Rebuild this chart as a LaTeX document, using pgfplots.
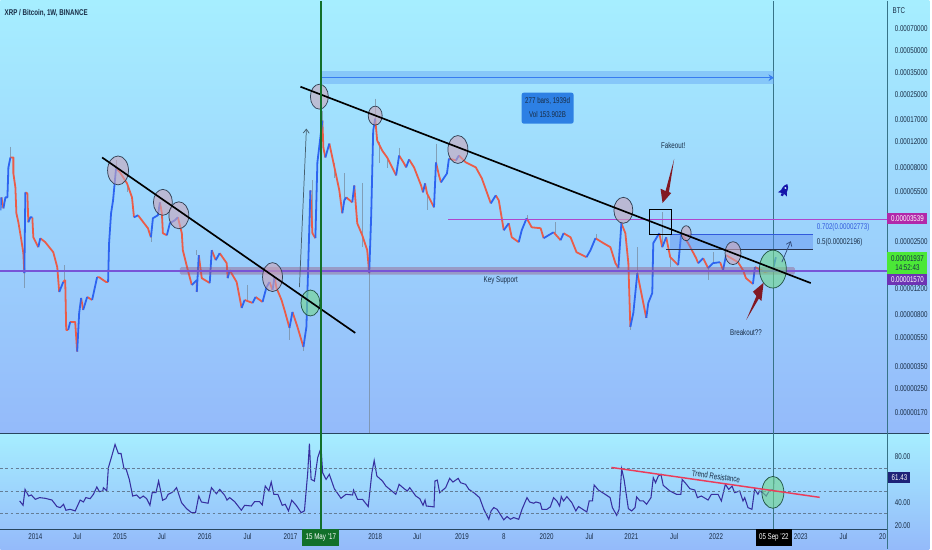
\documentclass[border=0pt]{standalone}
\usepackage{fontspec}
\usepackage{pgfplots}
\pgfplotsset{compat=1.18}
\usetikzlibrary{arrows.meta}
\setmainfont[FakeStretch=0.74]{Liberation Sans}
\definecolor{cred}{RGB}{235,92,72}
\definecolor{cblue}{RGB}{45,100,240}
\definecolor{cwick}{RGB}{120,140,160}
\definecolor{crsi}{RGB}{55,48,160}
\definecolor{ctxt}{RGB}{25,45,70}
\definecolor{caxis}{RGB}{55,115,135}
\definecolor{cgreen}{RGB}{18,112,42}
\definecolor{bgtop}{RGB}{166,238,255}
\definecolor{bgbot}{RGB}{148,186,250}
\definecolor{darr}{RGB}{130,25,35}
\definecolor{lpurple}{RGB}{120,85,215}
\definecolor{lmag}{RGB}{175,70,205}
\definecolor{ldash}{RGB}{100,125,150}
\definecolor{lpanel}{RGB}{40,70,95}
\definecolor{lfib}{RGB}{50,90,220}
\definecolor{lfibb}{RGB}{40,50,75}
\definecolor{cgray}{RGB}{205,165,185}
\definecolor{cgrayl}{RGB}{50,65,85}
\definecolor{cgrn}{RGB}{115,215,140}
\definecolor{cgrnl}{RGB}{35,85,70}
\definecolor{cband}{RGB}{150,85,125}
\definecolor{cmeas}{RGB}{100,165,245}
\definecolor{cmeasl}{RGB}{55,125,240}
\definecolor{cbox}{RGB}{45,128,228}
\definecolor{cfibf}{RGB}{95,140,240}
\definecolor{ctrend}{RGB}{235,60,90}
\definecolor{carr}{RGB}{70,95,110}
\definecolor{carrb}{RGB}{50,75,125}
\definecolor{crocket}{RGB}{20,20,170}
\definecolor{tagm}{RGB}{178,40,170}
\definecolor{tagg}{RGB}{75,232,55}
\definecolor{tagp}{RGB}{110,50,180}
\definecolor{tagn}{RGB}{30,35,120}
\newcommand{\lab}{\fontsize{6.3}{7}\selectfont}
\begin{document}
\begin{tikzpicture}
\begin{scope}[x=0.75pt,y=-0.75pt]
\useasboundingbox (0,0) rectangle (932,550);
\shade[top color=bgtop,bottom color=bgbot] (0,0) rectangle (932,434);
\shade[top color=bgtop,bottom color=bgbot] (0,434) rectangle (932,550);
\end{scope}
\begin{axis}[
  at={(0pt,0pt)},anchor=north west,scale only axis,
  width=667.5pt,height=325.5pt,
  xmin=0,xmax=890,ymode=log,ymin=123,ymax=108400,
  axis line style={draw=none},tick style={draw=none},
  xtick=\empty,
  ytick={70000,50000,35000,25000,17000,12000,8000,5500,2500,1200,800,550,350,250,170},
  yticklabels={0.00070000,0.00050000,0.00035000,0.00025000,0.00017000,0.00012000,0.00008000,0.00005500,0.00002500,0.00001200,0.00000800,0.00000550,0.00000350,0.00000250,0.00000170},
  yticklabel pos=right,
  yticklabel style={font=\lab,text=ctxt,anchor=west,xshift=2pt},
  unbounded coords=jump,
  line join=bevel,
]
\addplot[cwick,line width=0.6pt,opacity=.75] coordinates {
(10,11070)(10,9320)(10,nan)(24,1522)(24,1205)(24,nan)(64,1725)(64,1365)(64,nan)
(116,8900)(116,7860)(116,nan)(127,6210)(127,5400)(127,nan)(151,2670)(151,2471)(151,nan)
(197,2180)(197,2016)(197,nan)(248,1263)(248,999)(248,nan)(290,645)(290,535)(290,nan)
(304,478)(304,450)(304,nan)(313,6510)(313,2843)(313,nan)(323,19440)(323,16620)(323,nan)
(335,8490)(335,6720)(335,nan)(345,7260)(345,4760)(345,nan)(363,6210)(363,2286)(363,nan)
(370,1522)(370,125)(370,nan)(376,23500)(376,17150)(376,nan)(380,11800)(380,8490)(380,nan)
(388,8900)(388,7860)(388,nan)(400,10900)(400,9620)(400,nan)(428,5310)(428,4075)(428,nan)
(437,11600)(437,8630)(437,nan)(529,3770)(529,3600)(529,nan)(557,3377)(557,2843)(557,nan)
(598,2800)(598,2630)(598,nan)(632,655)(632,625)(632,nan)(639,2286)(639,1522)(639,nan)
(664,3950)(664,2286)(664,nan)(672,1954)(672,1672)(672,nan)(710,1646)(710,1365)(710,nan)
(715,2113)(715,1779)
};
\addplot[cred,line width=1.35pt] coordinates {
(1,4990)(3,4200)(3,nan)
(10,9320)(13,9320)(13,7260)(15,5840)(16,3890)(18,3377)(21,2550)(23,2080)(24,1522)(24,nan)
(25,5400)(27,5310)(28,3377)(28,nan)
(32,3650)(33,2670)(38,2286)(38,nan)
(40,2630)(45,2471)(53,2113)(57,1672)(59,1132)(59,nan)
(63,1323)(65,1365)(66,625)(68,625)(68,nan)
(70,708)(75,708)(77,444)(77,nan)
(81,1031)(83,854)(83,nan)
(87,1047)(92,999)(92,nan)
(97,1428)(99,1428)(103,1365)(106,1323)(108,1323)(108,nan)
(116,7860)(120,7380)(127,6210)(132,4990)(134,3650)(134,nan)
(138,3770)(148,3075)(151,2670)(151,nan)
(160,4610)(162,3890)(163,2843)(167,2756)(167,nan)
(178,3650)(182,2843)(183,2180)(188,1595)(192,1263)(192,nan)
(197,1365)(197,1132)(197,nan)
(199,2016)(202,1406)(210,1303)(210,nan)
(212,2180)(216,1865)(216,nan)
(220,2080)(227,1779)(228,1406)(228,nan)
(230,1595)(237,1323)(242,881)(242,nan)
(245,999)(253,953)(253,nan)
(256,1047)(263,968)(263,nan)
(270,1323)(273,1168)(273,nan)
(275,1428)(277,1205)(282,999)(285,854)(290,645)(290,nan)
(293,828)(298,655)(304,478)(304,nan)
(311,5570)(313,2843)(316,2630)(316,nan)
(323,16620)(324,10900)(326,9320)(326,nan)
(330,11600)(333,9320)(340,5570)(343,3890)(343,nan)
(347,4990)(353,4610)(353,nan)
(355,6020)(358,3324)(363,2756)(368,2180)(370,1522)(370,nan)
(376,17150)(378,12160)(383,10400)(388,9320)(397,7040)(397,nan)
(400,9620)(405,8490)(407,7980)(407,nan)
(410,9040)(415,7980)(422,6020)(424,5400)(424,nan)
(426,6210)(428,5310)(435,4270)(435,nan)
(437,8630)(440,7040)(442,6310)(442,nan)
(450,9180)(457,8900)(457,nan)
(460,9620)(467,8630)(477,7980)(483,6720)(492,4540)(492,nan)
(497,5150)(500,4760)(505,2980)(505,nan)
(510,3324)(513,2670)(520,2471)(520,nan)
(528,3600)(533,3120)(542,3075)(545,2630)(545,nan)
(555,2888)(562,2550)(562,nan)
(565,2843)(572,2670)(578,2113)(588,1954)(588,nan)
(597,2630)(605,2433)(612,2286)(617,1779)(620,1646)(620,nan)
(623,3324)(627,2843)(630,1779)(632,655)(632,nan)
(639,1522)(643,1114)(645,953)(648,754)(648,nan)
(661,2843)(664,2286)(664,nan)
(668,2670)(672,1954)(680,1725)(680,nan)
(683,2843)(690,2433)(698,1924)(700,1779)(700,nan)
(705,1924)(710,1646)(710,nan)
(722,1807)(725,1595)(725,nan)
(728,2016)(740,1807)(745,1595)(748,1406)(755,1283)(755,nan)
(757,1672)(767,1550)(775,1595)
};
\addplot[cblue,line width=1.35pt] coordinates {
(0,4075)(1,4990)(1,nan)
(3,4200)(5,4990)(7,4990)(8,7980)(10,9320)(10,nan)
(24,1522)(25,5400)(25,nan)
(28,3377)(30,3650)(32,3650)(32,nan)
(38,2286)(40,2630)(40,nan)
(59,1132)(63,1323)(63,nan)
(68,625)(70,708)(70,nan)
(77,444)(79,815)(81,1031)(81,nan)
(83,854)(87,1047)(87,nan)
(92,999)(97,1428)(97,nan)
(108,1323)(109,2433)(111,3890)(113,4760)(116,7860)(116,nan)
(134,3650)(138,3770)(138,nan)
(151,2670)(153,3600)(158,3770)(160,4610)(160,nan)
(167,2756)(170,3324)(175,3484)(178,3650)(178,nan)
(192,1263)(197,1365)(197,nan)
(197,1132)(199,2016)(199,nan)
(210,1303)(212,2180)(212,nan)
(216,1865)(220,2080)(220,nan)
(228,1406)(230,1595)(230,nan)
(242,881)(245,999)(245,nan)
(253,953)(256,1047)(256,nan)
(263,968)(267,1224)(270,1323)(270,nan)
(273,1168)(275,1428)(275,nan)
(290,645)(293,828)(293,nan)
(304,478)(307,655)(311,5570)(311,nan)
(316,2630)(318,8630)(323,16620)(323,nan)
(326,9320)(330,11600)(330,nan)
(343,3890)(345,4760)(347,4990)(347,nan)
(353,4610)(355,6020)(355,nan)
(370,1522)(372,3770)(374,14220)(376,17150)(376,nan)
(397,7040)(400,9620)(400,nan)
(407,7980)(410,9040)(410,nan)
(424,5400)(426,6210)(426,nan)
(435,4270)(437,8630)(437,nan)
(442,6310)(448,7260)(450,9180)(450,nan)
(457,8900)(460,9620)(460,nan)
(492,4540)(497,5150)(497,nan)
(505,2980)(510,3324)(510,nan)
(520,2471)(523,2980)(528,3600)(528,nan)
(545,2630)(555,2888)(555,nan)
(562,2550)(565,2843)(565,nan)
(588,1954)(592,2180)(597,2630)(597,nan)
(620,1646)(623,3324)(623,nan)
(632,655)(635,815)(639,1522)(639,nan)
(648,754)(650,953)(654,1114)(655,2433)(661,2843)(661,nan)
(664,2286)(668,2670)(668,nan)
(680,1725)(683,2843)(683,nan)
(700,1779)(705,1924)(705,nan)
(710,1646)(715,1779)(722,1807)(722,nan)
(725,1595)(728,2016)(728,nan)
(755,1283)(757,1672)(757,nan)
(775,1595)(778,1954)
};
\end{axis}
\begin{axis}[
  at={(0pt,-325.5pt)},anchor=north west,scale only axis,
  width=667.5pt,height=72pt,
  xmin=0,xmax=890,ymin=16.52,ymax=100,
  axis line style={draw=none},tick style={draw=none},
  xtick={35,77,120,162,205,248,291,376,418,463,505,548,591,633,676,718,803,846,885},
  xticklabels={2014,Jul,2015,Jul,2016,Jul,2017,2018,Jul,2019,8,2020,Jul,2021,Jul,2022,2023,Jul,20},
  xticklabel style={font=\lab,text=ctxt,anchor=center,yshift=-5.5pt},
  ytick={80,40,20},
  yticklabels={80.00,40.00,20.00},
  yticklabel pos=right,
  yticklabel style={font=\lab,text=ctxt,anchor=west,xshift=2pt},
]
\addplot[crsi,line width=0.8pt] coordinates {
(19.3,41.2)(22.7,37.4)(24.7,51.3)(28.3,45.5)(31,46.4)(35,42.6)(39.3,44.1)(45,43.5)(51.7,42)(56.7,36.3)(60,35.4)(63.3,38.3)(65.7,33.1)(70,33.9)(75,32.5)(80,42)(83.3,40.3)(85.7,44.1)(90,43.2)(93.3,47)(96.7,53.4)(99.3,49.3)(102.7,49.9)(103.3,52.8)(106.7,49.9)(108.3,70.2)(111.7,80.3)(115,90.5)(118.3,82.6)(121,82.6)(124,69.3)(126,69.3)(129.3,60)(132.7,45.5)(136.7,46.4)(140,43.5)(143.3,45.5)(146.7,43.2)(150,37.4)(152.3,48.4)(156,48.4)(158.7,58.6)(162.7,41.8)(166,43.2)(168.3,47)(171.7,48.4)(174,49.9)(176.7,52.8)(181.7,39.7)(186.7,34.5)(191.7,31)(195.7,31)(199,45.5)(201.7,40.3)(208.3,39.2)(211.7,52.8)(216.7,47.5)(220,51.3)(225,46.1)(227.3,42)(230,44.1)(235,40.6)(241.7,33.1)(245,37.4)(251.7,36.8)(255,40.6)(260,40.6)(262.7,37.7)(265.7,54.2)(269.3,49.9)(271.7,57.7)(274.3,47)(278.3,47)(282.7,37.4)(285.7,38.3)(289,32.5)(292.3,41.8)(296.7,37.4)(301.7,31)(305,32.5)(308.3,65.8)(310,91.3)(311.7,60)(315,58.6)(318.3,78.9)(321.7,87.6)(323.3,65.8)(326.7,60)(330,64.4)(335,51.9)(341.7,43.5)(346.7,47)(353.3,46.4)(354.3,50.7)(358.3,42.6)(363.3,42.6)(369,36.3)(372.7,65.8)(375,76.5)(377.7,62.9)(383.3,58.6)(386.7,54.2)(396.7,47)(400,55.7)(405,51.9)(408.3,49.9)(410.7,52.8)(416.7,45.5)(420.7,43.2)(424,37.4)(426,42)(427.3,36.8)(435,36)(436,58.6)(438.3,59.4)(440.7,48.4)(446.7,52.8)(450.7,60.9)(454,57.7)(459.3,60.9)(461.7,57.1)(466.7,55.7)(470,51.3)(475,48.4)(480.7,44.1)(485,33.9)(490,25.2)(492.3,32.5)(495,35.4)(498.3,33.9)(505,24.7)(508.3,27.6)(511.7,25.2)(515,26.7)(520,25.2)(523.3,33.9)(528.3,44.1)(531,40.3)(535,39.2)(537.3,40.3)(541.7,39.2)(543.3,33.9)(548.3,33.9)(551.7,36)(555,44.1)(558.3,41.2)(561,36.8)(562.7,45)(565,41.2)(568.3,45)(573.3,39.7)(577.3,32.5)(580,36.3)(588.3,31.6)(590.7,41.2)(594,41.2)(595.7,55.1)(600,50.7)(606.7,47)(611.7,44.1)(614,35.4)(618.3,28.7)(620.7,33.9)(623.3,69.3)(625.7,60)(630,34.5)(633.3,32.5)(636.7,35.4)(638.3,44.7)(641.7,41.2)(645,41.2)(648.3,38.3)(652.7,44.1)(655,61.5)(657.3,57.1)(660,62.9)(662.7,64.4)(665,54.8)(671.7,49.9)(678.3,47)(682.7,47)(684,60)(688.3,55.7)(691.7,51.9)(696.7,50.7)(699.3,44.1)(703.3,45.5)(710,42)(713.3,47)(720,47)(723.3,41.2)(727.3,55.7)(730.7,51.3)(734,54.2)(736.7,48.4)(741.7,49.9)(745,41.2)(746.7,44.1)(750,35.4)(754,33.9)(756.7,51.3)(760,47)(761.7,49.9)(765,48.4)(768.3,45.5)(771.7,50.5)(775.7,51.3)(776,61.43)
};
\end{axis}
\begin{scope}[x=0.75pt,y=-0.75pt,font=\lab,text=ctxt]
% RSI guides
\foreach \yy in {469,492,514.5}{\draw[dash pattern=on 2.2pt off 1.6pt,line width=.5pt,draw=ldash] (0,\yy)--(890,\yy);}
% panel lines
\draw[line width=.65pt,draw=lpanel] (0,434)--(932,434);
\draw[line width=.65pt,draw=lpanel] (0,530)--(890,530);
\draw[line width=.8pt,draw=caxis] (890,0)--(890,550);
\draw[line width=.8pt,draw=caxis] (776,0)--(776,530);
% key support
\fill[rounded corners=1pt,fill=cband,opacity=.42] (180,267) rectangle (797,274.5);
\fill[lpurple] (0,270.3) rectangle (890,271.7);
\fill[lmag] (449,218.3) rectangle (890,219.7);
% measure box
\fill[fill=cmeas,opacity=.45] (322,70) rectangle (776,83);
\draw[line width=.9pt,draw=cmeasl,-{Stealth[length=4pt,width=5pt]}] (322,77)--(776,77);
\fill[rounded corners=1.5pt,fill=cbox] (523,92) rectangle (575,123);
\node[text=ctxt] at (549,100) {277 bars, 1939d};
\node[text=ctxt] at (549,114) {Vol 153.902B};
% fib box
\fill[fill=cfibf,opacity=.42] (672,234) rectangle (815,249);
\fill[lfib] (652,233.8) rectangle (815,235.2);
\draw[line width=.7pt,draw=lfibb] (668,249)--(815,249);
\node[anchor=west,inner sep=0,text=lfib] at (819,227) {0.702(0.00002773)};
\node[anchor=west,inner sep=0] at (819,242) {0.5(0.00002196)};
\draw[line width=.9pt,black] (651,209) rectangle (673,234);
% circles
\foreach \cx/\cy/\rx/\ry in {118/170/10.5/14.5,163/202/9.5/13,179/215/10/13.5,273/277/10/14.5,320/96/9/12.5,376/115/7/9.5,459/149/10/14,625/210/9.5/13,688/233/5/7.5,735/253/8/11.5}{
\draw[line width=.55pt,draw=cgrayl,fill=cgray,fill opacity=.6] (\cx,\cy) ellipse [x radius=\rx,y radius=\ry];}
\foreach \cx/\cy/\rx/\ry in {311/303/9.5/13,775/269/13.5/19,775/493/11/16}{
\draw[line width=.55pt,draw=cgrnl,fill=cgrn,fill opacity=.6] (\cx,\cy) ellipse [x radius=\rx,y radius=\ry];}
% trendlines
\draw[line width=1.25pt,black] (102,157)--(356,333);
\draw[line width=1.25pt,black] (301,86)--(813,283);
\draw[line width=1.1pt,draw=ctrend] (613,468)--(822,498);
\node[rotate=-8] at (718,477) {Trend Resistance};
\draw[line width=1.5pt,draw=cgreen] (322,0)--(322,530);
% arrows
\draw[line width=.55pt,draw=carr,-{Straight Barb[length=3pt,width=4.5pt]}] (300,287)--(307,128);
\draw[line width=.55pt,draw=carrb,-{Straight Barb[length=3pt,width=4.5pt]}] (784,262)--(793,241);
\fill[darr] (676,158.3)--(670.7,191.7)--(673,192.7)--(664.3,202.7)--(662.3,188.3)--(667.3,190.7)--cycle;
\fill[darr] (748.3,320)--(761,298.5)--(763.5,301)--(765.7,282.7)--(755,291.7)--(758.5,296)--cycle;
\node at (675,145) {Fakeout!};
\node at (748,333) {Breakout??};
\node at (502,280) {Key Support};
% rocket icon
\begin{scope}[shift={(786.5,190)},rotate=-25]
\fill[crocket] (0,-7) .. controls (3.6,-4) and (3.4,1) .. (2.4,3.5) -- (-2.4,3.5) .. controls (-3.4,1) and (-3.6,-4) .. (0,-7) -- cycle;
\fill[crocket] (-2.6,0) -- (-5,4.5) -- (-2,3.5) -- cycle;
\fill[crocket] (2.6,0) -- (5,4.5) -- (2,3.5) -- cycle;
\fill[crocket] (-1.2,3.5) rectangle (1.2,6);
\fill[white!85!cyan] (0,-2.6) circle [radius=1.1];
\end{scope}
\node[anchor=west,inner sep=0,font=\lab\bfseries] at (4,12) {XRP / Bitcoin, 1W, BINANCE};
\node[anchor=west,inner sep=0] at (895,10) {BTC};
% tags
\fill[tagm] (890,213) rectangle (930,224);
\node[text=white] at (910,218.5) {0.00003539};
\fill[tagg] (890,252) rectangle (930,274);
\node[text=ctxt] at (910,258) {0.00001937};
\node[text=ctxt] at (910,268) {14:52:43};
\fill[tagp] (890,274) rectangle (930,285);
\node[text=white] at (910,279.5) {0.00001570};
\fill[tagn] (891,473) rectangle (913,484);
\node[text=white] at (902,478.5) {61.43};
\fill[cgreen] (303,530) rectangle (340,547);
\node[text=white] at (321.5,538.5) {15 May '17};
\fill[black] (758,530) rectangle (794,547);
\node[text=white] at (776,538.5) {05 Sep '22};
\end{scope}
\end{tikzpicture}
\end{document}
